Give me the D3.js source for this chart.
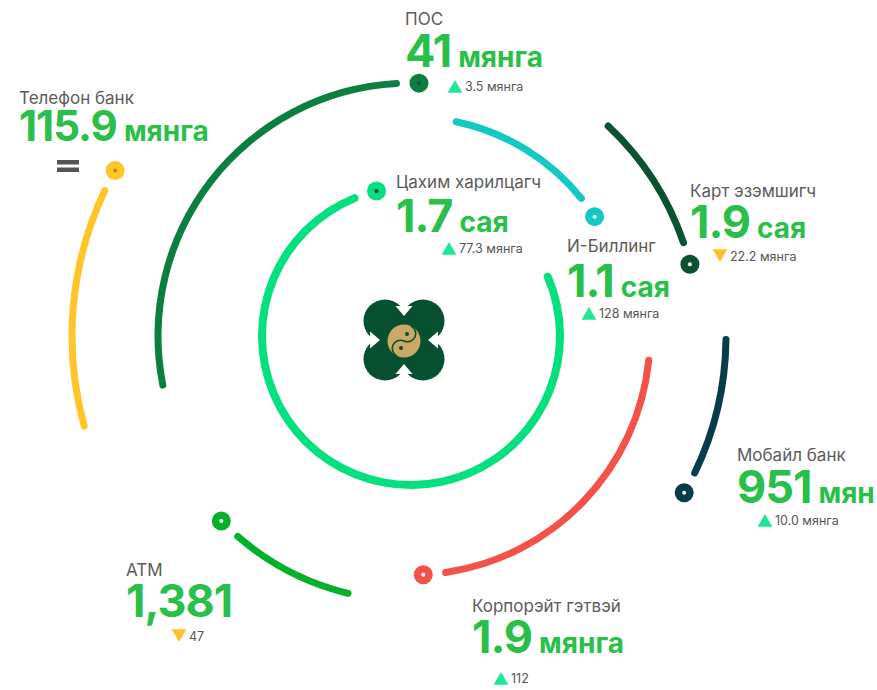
<!DOCTYPE html>
<html>
<head>
<meta charset="utf-8">
<script src="https://cdn.jsdelivr.net/npm/d3@7"></script>
<style>
  body { margin: 0; background: #fff; }
  svg text { font-family: Inter, "Noto Sans", sans-serif; }
</style>
</head>
<body>
<div id="chart"></div>
<script>
// Channels and their figures
const names = ["Телефон банк", "ПОС", "Цахим харилцагч", "И-Биллинг", "Карт эзэмшигч", "Мобайл банк", "Корпорэйт гэтвэй", "ATM"];
const values = ["115.9", "41", "1.7", "1.1", "1.9", "951", "1.9", "1,381"];
const units = ["мянга", "мянга", "сая", "сая", "сая", "мян", "мянга", ""];
const changes = ["", "3.5 мянга", "77.3 мянга", "128 мянга", "22.2 мянга", "10.0 мянга", "112", "47"];
const trend = ["flat", "up", "up", "up", "down", "up", "up", "down"];

// Orbit arc span of each channel, degrees clockwise from 12 o'clock
const arcFrom = [254, 258, 65, 11, 42.5, 90, 95, 193];
const arcTo = [296, 357.5, 339.3, 52, 71.8, 116.4, 172.5, 221.6];

// Layout
const W = 877, H = 690;
const cx = 411, cy = 336;
const dotGap = 19; // px between arc end and its dot

const svg = d3.select("#chart")
    .append("svg")
    .attr("width", W)
    .attr("height", H);

const rows = names.map((name, i) => ({
    name, value: values[i], unit: units[i], change: changes[i], trend: trend[i],
    from: arcFrom[i], to: arcTo[i]
}));

const radius = d3.scaleOrdinal()
    .domain(names)
    .range([339, 253, 149, 219, 288, 315, 239, 265]);

const color = d3.scaleOrdinal()
    .domain(names)
    .range(["#ffc629", "#0b7f40", "#05e07f", "#14c8c4", "#0b5230", "#073c4b", "#f3524a", "#05b02a"]);

const pinColor = d3.scaleOrdinal()
    .domain(names)
    .range(["#c98a00", "#095c2e", "#07402a", "#fff", "#fff", "#fff", "#fff", "#fff"]);

const angle = d3.scaleLinear().domain([0, 360]).range([0, 2 * Math.PI]);

const thick = d => d.name === "Цахим харилцагч" ? 8 : 7;

const arc = d3.arc()
    .innerRadius(d => radius(d.name) - thick(d) / 2)
    .outerRadius(d => radius(d.name) + thick(d) / 2)
    .startAngle(d => angle(d.from))
    .endAngle(d => angle(d.to))
    .cornerRadius(d => thick(d) / 2);

const orbit = svg.append("g").attr("transform", `translate(${cx},${cy})`);

orbit.selectAll(".arc")
    .data(rows)
    .enter()
    .append("path")
    .attr("class", "arc")
    .attr("d", arc)
    .attr("fill", d => color(d.name));

// planet dot at the end of each arc
const dotPos = d => d3.pointRadial(angle(d.to) + dotGap / radius(d.name), radius(d.name));

const dots = orbit.selectAll(".dot")
    .data(rows)
    .enter()
    .append("g")
    .attr("class", "dot")
    .attr("transform", d => `translate(${dotPos(d)})`);
dots.append("circle").attr("r", 9.5).attr("fill", d => color(d.name));
dots.append("circle").attr("r", 2).attr("fill", d => pinColor(d.name));

// Logo in the middle
const logo = svg.append("g").attr("transform", "translate(404,340)");
[[-19, -19], [19, -19], [-19, 19], [19, 19]].forEach(([x, y]) =>
    logo.append("circle").attr("cx", x).attr("cy", y).attr("r", 21.5).attr("fill", "#064f2f"));
logo.append("circle").attr("r", 27).attr("fill", "#064f2f");
[0, 90, 180, 270].forEach(a =>
    logo.append("path")
        .attr("d", "M-8.5,-34 L8.5,-34 L0,-24 Z")
        .attr("transform", `rotate(${a})`)
        .attr("fill", "#fff"));
logo.append("circle").attr("cy", 1).attr("r", 16.5).attr("fill", "#c9a965");
logo.append("path")
    .attr("d", "M0,-15.5 A7.75,7.75 0 0,1 0,1 A7.75,7.75 0 0,0 0,17.5")
    .attr("transform", "rotate(25 0 1)")
    .attr("fill", "none")
    .attr("stroke", "#064f2f")
    .attr("stroke-width", 1.6);
logo.append("circle").attr("cx", 3).attr("cy", -6).attr("r", 2).attr("fill", "#064f2f");
logo.append("circle").attr("cx", -3).attr("cy", 8).attr("r", 2).attr("fill", "#064f2f");

// Text blocks: label, value + unit, change marker
const place = {
    "Телефон банк":     { x: 19,  ly: 104, vy: 141, vs: 42, mx: 68,  my: 166 },
    "ПОС":              { x: 405, ly: 25,  vy: 67,  vs: 45, tx: 465, ty: 91 },
    "Цахим харилцагч":  { x: 396, ly: 188, vy: 232, vs: 45, tx: 459, ty: 253 },
    "И-Биллинг":        { x: 567, ly: 252, vy: 297, vs: 45, tx: 599, ty: 318 },
    "Карт эзэмшигч":    { x: 690, ly: 197, vy: 238, vs: 45, tx: 730, ty: 261 },
    "Мобайл банк":      { x: 737, ly: 461, vy: 503, vs: 45, tx: 775, ty: 525 },
    "Корпорэйт гэтвэй": { x: 472, ly: 612, vy: 653, vs: 45, tx: 511, ty: 683 },
    "ATM":              { x: 126, ly: 576, vy: 617, vs: 45, tx: 189, ty: 641 }
};

const block = svg.selectAll(".block")
    .data(rows)
    .enter()
    .append("g")
    .attr("class", "block");

block.append("text")
    .attr("x", d => place[d.name].x)
    .attr("y", d => place[d.name].ly)
    .style("font-size", "17px")
    .style("fill", "#5b5b5b")
    .text(d => d.name);

block.each(function(d) {
    const p = place[d.name];
    const g = d3.select(this);
    const v = g.append("text")
        .attr("x", p.x)
        .attr("y", p.vy)
        .style("font-size", p.vs + "px")
        .style("font-weight", 700)
        .style("letter-spacing", "-1px")
        .style("fill", "#2abf4a")
        .text(d.value);
    if (d.unit) {
        g.append("text")
            .attr("x", p.x + v.node().getComputedTextLength() + 7)
            .attr("y", p.vy)
            .style("font-size", "28px")
            .style("font-weight", 700)
            .style("fill", "#2abf4a")
            .text(d.unit);
    }
    if (d.trend === "flat") {
        g.append("path")
            .attr("transform", `translate(${p.mx},${p.my})`)
            .attr("d", "M-11,-6 H11 V-1.5 H-11 Z M-11,1.5 H11 V6 H-11 Z")
            .attr("fill", "#555");
    } else {
        const up = d.trend === "up";
        g.append("path")
            .attr("d", d3.symbol(d3.symbolTriangle, 95))
            .attr("transform", `translate(${p.tx - 10},${p.ty - (up ? 2.5 : 7.5)}) rotate(${up ? 0 : 180})`)
            .attr("fill", up ? "#1de896" : "#ffc12a");
        g.append("text")
            .attr("x", p.tx)
            .attr("y", p.ty)
            .style("font-size", "12.5px")
            .style("fill", "#555")
            .text(d.change);
    }
});
</script>
</body>
</html>
